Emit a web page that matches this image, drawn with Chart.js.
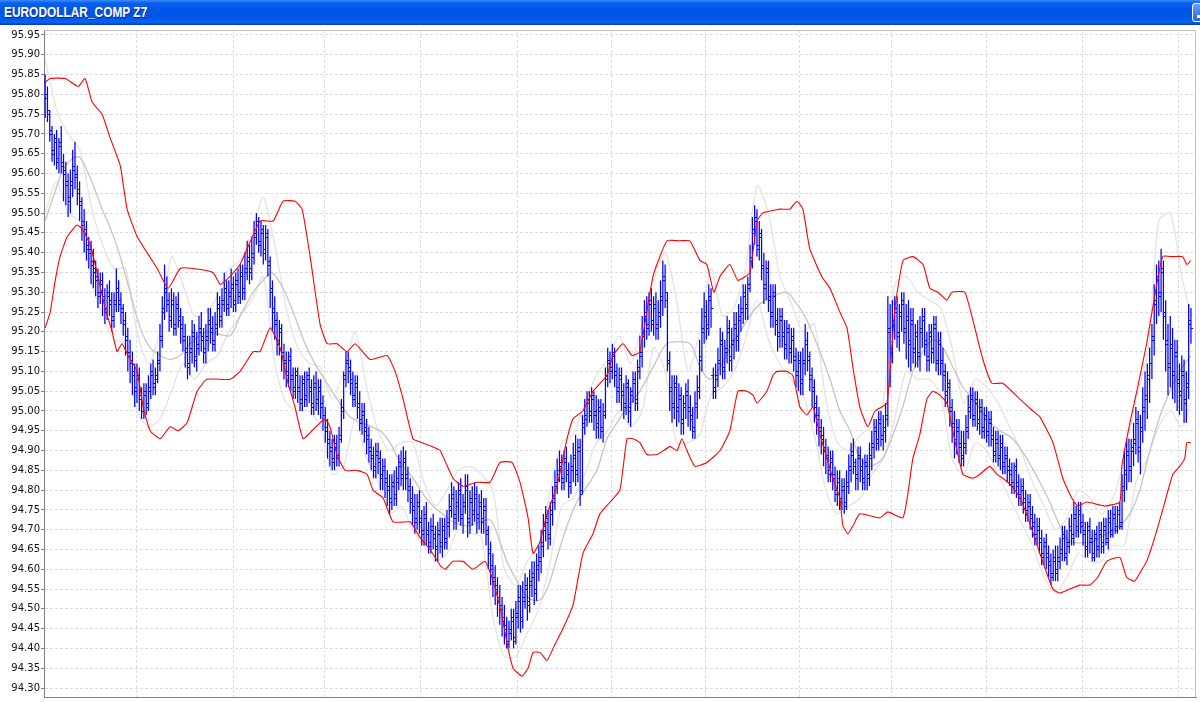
<!DOCTYPE html>
<html><head><meta charset="utf-8">
<script src="https://cdn.jsdelivr.net/npm/chart.js@4.4.1/dist/chart.umd.min.js"></script>
<style>
html,body{margin:0;padding:0;background:#fff;overflow:hidden;width:1200px;height:702px;position:relative;}
#bar{position:absolute;left:0;top:0;width:1200px;height:25px;
background:linear-gradient(to bottom,#3a8dfa 0%,#0a60ec 12%,#0055e6 45%,#0058e8 75%,#0a66f2 88%,#0450d8 94%,#0038b8 100%);}
#title{position:absolute;left:4px;top:4px;color:#fff;font:bold 14px "Liberation Sans",Arial,sans-serif;text-shadow:1px 1px 0 #0a2a8c;white-space:nowrap;transform:scaleX(0.85);transform-origin:0 0;}
#btn{position:absolute;left:1192px;top:3px;width:19px;height:19px;box-sizing:border-box;border:1px solid #fff;border-radius:3px;background:linear-gradient(to bottom,#6a9ff8,#2b63e2);}
#btn i{position:absolute;left:4px;top:11px;width:6px;height:3px;background:#fff;}
#wrap{position:absolute;left:0;top:25px;width:1200px;height:677px;}
</style></head>
<body>
<div id="bar"><div id="title">EURODOLLAR_COMP Z7</div><div id="btn"><i></i></div></div>
<div id="wrap"><canvas id="c" width="1200" height="677"></canvas></div>
<script>
// ---- tick labels ----
const yTickValues = [94.30,94.35,94.40,94.45,94.50,94.55,94.60,94.65,94.70,94.75,94.80,94.85,94.90,94.95,95.00,95.05,95.10,95.15,95.20,95.25,95.30,95.35,95.40,95.45,95.50,95.55,95.60,95.65,95.70,95.75,95.80,95.85,95.90,95.95];
// vertical grid positions (bar index)
const xGridAt = [40,82,121.5,163.3,205.5,246.8,287.8,328.7,368.7,410.1,451.9,493.7];

// ---- OHLC series (one entry per trading day) ----
const open = [
95.83,95.79,95.75,95.70,95.65,95.69,95.63,95.68,95.62,95.61,
95.58,95.53,95.57,95.62,95.59,95.55,95.53,95.47,95.46,95.41,
95.41,95.38,95.36,95.34,95.29,95.33,95.29,95.25,95.30,95.28,
95.23,95.28,95.31,95.27,95.25,95.23,95.19,95.15,95.13,95.10,
95.05,95.09,95.04,95.00,95.05,95.01,95.05,95.10,95.06,95.09,
95.13,95.19,95.26,95.31,95.27,95.23,95.28,95.21,95.27,95.23,
95.22,95.19,95.16,95.11,95.15,95.20,95.13,95.16,95.21,95.19,
95.15,95.18,95.23,95.21,95.17,95.21,95.27,95.23,95.27,95.31,
95.26,95.30,95.32,95.27,95.33,95.29,95.35,95.30,95.36,95.39,
95.35,95.39,95.45,95.48,95.42,95.46,95.40,95.45,95.37,95.31,
95.26,95.23,95.17,95.21,95.15,95.13,95.09,95.14,95.09,95.05,
95.10,95.06,95.02,95.08,95.03,95.09,95.06,95.01,95.07,95.02,
95.06,95.02,94.99,94.96,94.93,94.91,94.87,94.92,94.88,94.94,
95.01,95.09,95.13,95.11,95.08,95.03,95.07,95.02,94.97,95.00,
94.96,94.94,94.91,94.89,94.85,94.90,94.88,94.83,94.86,94.83,
94.81,94.77,94.82,94.78,94.82,94.87,94.83,94.88,94.84,94.81,
94.78,94.76,94.72,94.77,94.73,94.69,94.74,94.70,94.66,94.71,
94.69,94.65,94.70,94.66,94.71,94.67,94.71,94.76,94.79,94.73,
94.76,94.80,94.73,94.77,94.81,94.72,94.78,94.74,94.79,94.73,
94.77,94.72,94.76,94.69,94.65,94.61,94.58,94.56,94.53,94.51,
94.48,94.46,94.41,94.45,94.48,94.42,94.48,94.53,94.47,94.52,
94.56,94.51,94.56,94.59,94.54,94.61,94.62,94.66,94.71,94.73,
94.68,94.75,94.77,94.82,94.85,94.87,94.82,94.88,94.84,94.81,
94.85,94.89,94.84,94.91,94.80,94.97,94.98,95.03,94.99,95.04,
95.00,94.96,95.01,94.95,95.00,95.09,95.13,95.11,95.15,95.10,
95.05,95.09,95.05,95.01,95.07,95.00,95.05,95.08,95.02,95.11,
95.14,95.19,95.25,95.21,95.28,95.22,95.27,95.21,95.24,95.28,
95.34,95.28,95.13,95.06,95.01,95.07,95.01,95.04,94.97,95.02,
95.05,95.01,94.99,94.95,95.01,95.06,95.13,95.21,95.25,95.21,
95.29,95.09,95.05,95.09,95.12,95.18,95.10,95.16,95.21,95.13,
95.17,95.22,95.18,95.24,95.25,95.30,95.26,95.32,95.39,95.46,
95.49,95.41,95.44,95.37,95.31,95.36,95.29,95.24,95.30,95.23,
95.19,95.24,95.20,95.16,95.21,95.15,95.19,95.14,95.09,95.13,
95.07,95.12,95.18,95.13,95.09,95.06,95.02,94.99,94.96,94.94,
94.91,94.89,94.84,94.88,94.84,94.79,94.83,94.77,94.81,94.76,
94.81,94.85,94.90,94.86,94.83,94.89,94.86,94.82,94.87,94.83,
94.88,94.91,94.96,94.92,94.98,94.93,94.95,94.99,95.21,95.15,
95.23,95.26,95.19,95.25,95.28,95.20,95.24,95.17,95.23,95.15,
95.20,95.14,95.21,95.24,95.17,95.13,95.20,95.15,95.22,95.12,
95.18,95.13,95.10,95.04,95.06,95.01,94.97,94.92,94.96,94.92,
94.88,94.91,94.95,95.01,95.04,94.98,95.03,94.97,95.01,94.95,
94.99,94.94,94.98,94.94,94.89,94.93,94.88,94.92,94.86,94.89,
94.86,94.85,94.81,94.86,94.82,94.78,94.81,94.78,94.74,94.77,
94.74,94.72,94.68,94.71,94.68,94.63,94.67,94.64,94.62,94.58,
94.63,94.59,94.62,94.64,94.69,94.63,94.66,94.71,94.68,94.74,
94.70,94.75,94.71,94.70,94.65,94.71,94.68,94.63,94.69,94.65,
94.70,94.66,94.71,94.67,94.73,94.69,94.74,94.70,94.75,94.71,
94.81,94.84,94.90,94.85,94.91,94.92,94.98,94.90,94.96,95.01,
95.03,95.09,95.12,95.19,95.28,95.34,95.29,95.36,95.25,95.18,
95.11,95.17,95.09,95.15,95.08,95.04,95.10,95.02,95.07,95.23];
const high = [
95.85,95.82,95.76,95.72,95.70,95.71,95.69,95.72,95.65,95.63,
95.60,95.61,95.66,95.68,95.62,95.58,95.54,95.51,95.48,95.44,
95.43,95.41,95.38,95.36,95.35,95.35,95.31,95.32,95.33,95.30,
95.30,95.36,95.33,95.30,95.27,95.25,95.21,95.18,95.15,95.12,
95.12,95.11,95.06,95.07,95.07,95.09,95.12,95.13,95.11,95.15,
95.22,95.29,95.37,95.34,95.30,95.31,95.30,95.29,95.30,95.26,
95.24,95.22,95.19,95.19,95.23,95.22,95.20,95.24,95.25,95.21,
95.22,95.26,95.26,95.24,95.25,95.30,95.29,95.31,95.35,95.33,
95.33,95.36,95.34,95.35,95.36,95.37,95.37,95.40,95.43,95.42,
95.44,95.48,95.50,95.49,95.48,95.47,95.47,95.46,95.39,95.33,
95.29,95.25,95.23,95.22,95.17,95.15,95.15,95.16,95.11,95.11,
95.11,95.09,95.09,95.10,95.10,95.11,95.08,95.09,95.10,95.08,
95.08,95.04,95.01,94.98,94.95,94.93,94.94,94.94,94.96,95.03,
95.10,95.15,95.15,95.13,95.10,95.09,95.09,95.05,95.02,95.02,
94.98,94.96,94.93,94.91,94.92,94.92,94.90,94.88,94.88,94.85,
94.84,94.84,94.85,94.86,94.89,94.90,94.91,94.90,94.86,94.83,
94.81,94.79,94.79,94.80,94.75,94.76,94.77,94.72,94.73,94.74,
94.71,94.72,94.73,94.73,94.73,94.75,94.79,94.82,94.81,94.80,
94.82,94.83,94.79,94.84,94.84,94.80,94.81,94.82,94.81,94.79,
94.80,94.78,94.78,94.71,94.67,94.64,94.61,94.58,94.56,94.53,
94.51,94.48,94.47,94.50,94.50,94.52,94.56,94.56,94.57,94.59,
94.58,94.60,94.62,94.62,94.64,94.66,94.70,94.74,94.76,94.75,
94.77,94.81,94.85,94.88,94.90,94.89,94.90,94.91,94.87,94.89,
94.92,94.94,94.93,94.93,94.99,95.03,95.05,95.05,95.06,95.05,
95.04,95.03,95.03,95.02,95.11,95.16,95.15,95.17,95.16,95.12,
95.11,95.11,95.07,95.09,95.08,95.06,95.10,95.10,95.13,95.19,
95.24,95.28,95.29,95.30,95.31,95.29,95.30,95.28,95.33,95.38,
95.37,95.30,95.15,95.09,95.09,95.09,95.07,95.06,95.04,95.07,
95.08,95.04,95.01,95.05,95.09,95.18,95.26,95.30,95.28,95.32,
95.31,95.11,95.12,95.16,95.21,95.20,95.18,95.24,95.23,95.21,
95.25,95.25,95.27,95.29,95.32,95.32,95.34,95.42,95.49,95.52,
95.51,95.48,95.46,95.40,95.38,95.38,95.32,95.32,95.32,95.26,
95.26,95.26,95.23,95.23,95.22,95.21,95.21,95.16,95.15,95.15,
95.16,95.22,95.20,95.15,95.11,95.08,95.04,95.01,94.98,94.96,
94.93,94.91,94.90,94.90,94.86,94.85,94.85,94.83,94.83,94.85,
94.89,94.92,94.93,94.88,94.91,94.91,94.88,94.89,94.89,94.92,
94.95,94.98,94.98,95.00,95.00,94.99,95.02,95.29,95.27,95.28,
95.29,95.29,95.27,95.30,95.30,95.27,95.28,95.26,95.26,95.22,
95.23,95.24,95.26,95.26,95.20,95.22,95.22,95.24,95.24,95.20,
95.20,95.16,95.12,95.10,95.08,95.03,95.00,94.98,94.98,94.95,
94.95,94.99,95.04,95.06,95.06,95.05,95.05,95.03,95.03,95.01,
95.01,95.00,95.00,94.96,94.95,94.95,94.94,94.94,94.91,94.91,
94.88,94.87,94.87,94.88,94.84,94.83,94.83,94.80,94.79,94.79,
94.76,94.74,94.73,94.73,94.70,94.68,94.69,94.66,94.64,94.65,
94.66,94.66,94.68,94.71,94.71,94.70,94.73,94.74,94.77,94.76,
94.77,94.77,94.74,94.72,94.72,94.73,94.70,94.70,94.71,94.72,
94.72,94.73,94.73,94.75,94.75,94.76,94.76,94.76,94.77,94.84,
94.90,94.93,94.93,94.93,94.97,95.01,95.00,94.99,95.06,95.10,
95.12,95.16,95.22,95.32,95.37,95.38,95.41,95.38,95.28,95.22,
95.24,95.21,95.18,95.18,95.12,95.14,95.13,95.10,95.27,95.26];
const low = [
95.74,95.73,95.68,95.63,95.62,95.61,95.60,95.60,95.53,95.52,
95.49,95.50,95.54,95.56,95.52,95.48,95.43,95.40,95.38,95.36,
95.32,95.31,95.29,95.26,95.27,95.24,95.22,95.23,95.24,95.20,
95.21,95.25,95.25,95.22,95.19,95.14,95.10,95.07,95.04,95.01,
95.02,95.00,94.98,94.98,94.99,95.00,95.03,95.04,95.04,95.07,
95.10,95.16,95.23,95.25,95.20,95.21,95.19,95.19,95.21,95.17,
95.15,95.11,95.08,95.09,95.12,95.11,95.10,95.14,95.15,95.12,
95.12,95.15,95.17,95.15,95.15,95.19,95.21,95.21,95.25,95.24,
95.24,95.26,95.25,95.25,95.27,95.27,95.28,95.28,95.33,95.32,
95.33,95.37,95.42,95.40,95.39,95.37,95.38,95.34,95.26,95.20,
95.18,95.14,95.14,95.10,95.08,95.06,95.06,95.05,95.03,95.03,
95.02,95.00,95.00,95.01,95.01,95.02,94.99,94.99,95.00,94.99,
94.98,94.95,94.92,94.88,94.86,94.85,94.85,94.86,94.86,94.92,
94.98,95.06,95.07,95.04,95.01,95.01,94.98,94.95,94.94,94.92,
94.89,94.87,94.85,94.83,94.83,94.84,94.80,94.80,94.78,94.76,
94.74,94.75,94.76,94.76,94.80,94.81,94.80,94.80,94.77,94.74,
94.71,94.69,94.70,94.69,94.66,94.66,94.66,94.64,94.64,94.65,
94.62,94.62,94.64,94.63,94.65,94.65,94.68,94.73,94.70,94.70,
94.72,94.71,94.69,94.74,94.68,94.69,94.71,94.72,94.69,94.70,
94.69,94.69,94.66,94.60,94.56,94.53,94.51,94.48,94.46,94.43,
94.41,94.40,94.40,94.42,94.40,94.41,94.45,94.44,94.45,94.50,
94.47,94.49,94.53,94.51,94.52,94.57,94.59,94.63,94.67,94.65,
94.66,94.71,94.75,94.79,94.82,94.80,94.80,94.82,94.78,94.79,
94.82,94.81,94.82,94.76,94.79,94.94,94.96,94.97,94.97,94.95,
94.93,94.93,94.93,94.92,94.98,95.06,95.07,95.08,95.06,95.02,
95.02,95.00,94.98,94.99,94.97,94.96,95.02,95.00,95.00,95.08,
95.11,95.16,95.18,95.19,95.20,95.19,95.18,95.18,95.21,95.24,
95.26,95.10,95.00,94.97,94.98,94.96,94.97,94.94,94.94,94.98,
94.96,94.95,94.93,94.93,94.98,95.03,95.10,95.17,95.18,95.19,
95.21,95.03,95.03,95.06,95.09,95.08,95.08,95.12,95.10,95.10,
95.13,95.15,95.15,95.20,95.22,95.23,95.23,95.30,95.36,95.42,
95.39,95.38,95.33,95.27,95.28,95.25,95.21,95.21,95.19,95.15,
95.16,95.16,95.13,95.13,95.12,95.12,95.10,95.06,95.05,95.04,
95.04,95.09,95.10,95.05,95.01,94.97,94.94,94.91,94.89,94.86,
94.84,94.82,94.82,94.80,94.77,94.76,94.75,94.75,94.74,94.75,
94.79,94.82,94.84,94.80,94.80,94.82,94.80,94.80,94.80,94.81,
94.85,94.88,94.90,94.90,94.91,94.90,94.92,94.96,95.06,95.12,
95.18,95.16,95.15,95.20,95.17,95.13,95.11,95.10,95.12,95.11,
95.11,95.10,95.16,95.14,95.10,95.10,95.12,95.12,95.10,95.09,
95.09,95.05,95.01,95.01,94.96,94.92,94.88,94.89,94.87,94.86,
94.86,94.89,94.93,94.98,94.96,94.96,94.95,94.94,94.93,94.93,
94.92,94.91,94.91,94.87,94.87,94.86,94.85,94.84,94.84,94.82,
94.81,94.79,94.79,94.78,94.76,94.76,94.74,94.72,94.72,94.70,
94.68,94.66,94.66,94.64,94.61,94.61,94.60,94.58,94.56,94.57,
94.57,94.57,94.60,94.62,94.62,94.61,94.64,94.66,94.66,94.68,
94.68,94.69,94.66,94.63,94.63,94.64,94.62,94.62,94.63,94.63,
94.64,94.64,94.66,94.65,94.68,94.68,94.69,94.69,94.70,94.70,
94.77,94.80,94.82,94.82,94.86,94.89,94.87,94.84,94.92,94.95,
94.98,95.02,95.08,95.14,95.22,95.24,95.25,95.18,95.10,95.04,
95.06,95.03,95.02,95.00,94.99,95.00,94.97,94.97,95.03,95.17];
const close = [
95.80,95.76,95.71,95.66,95.68,95.64,95.67,95.63,95.60,95.57,
95.54,95.58,95.61,95.60,95.56,95.52,95.48,95.45,95.42,95.40,
95.37,95.35,95.33,95.30,95.32,95.28,95.26,95.29,95.27,95.24,
95.27,95.30,95.28,95.26,95.22,95.18,95.14,95.12,95.09,95.06,
95.08,95.03,95.00,95.04,95.02,95.06,95.09,95.07,95.08,95.12,
95.18,95.25,95.30,95.28,95.24,95.27,95.22,95.26,95.24,95.21,
95.18,95.15,95.12,95.16,95.19,95.14,95.17,95.20,95.18,95.16,
95.19,95.22,95.20,95.18,95.22,95.26,95.24,95.28,95.30,95.27,
95.29,95.31,95.28,95.32,95.30,95.34,95.31,95.35,95.38,95.36,
95.40,95.44,95.47,95.43,95.45,95.41,95.44,95.38,95.30,95.25,
95.22,95.18,95.20,95.14,95.12,95.10,95.13,95.08,95.06,95.09,
95.05,95.03,95.07,95.04,95.08,95.05,95.02,95.06,95.03,95.05,
95.01,94.98,94.95,94.92,94.90,94.88,94.91,94.89,94.93,95.00,
95.08,95.12,95.10,95.07,95.04,95.06,95.01,94.98,94.99,94.95,
94.93,94.90,94.88,94.86,94.89,94.87,94.84,94.85,94.82,94.80,
94.78,94.81,94.79,94.83,94.86,94.84,94.87,94.83,94.80,94.77,
94.75,94.73,94.76,94.72,94.70,94.73,94.69,94.67,94.70,94.68,
94.66,94.69,94.67,94.70,94.68,94.72,94.75,94.78,94.74,94.77,
94.79,94.74,94.76,94.80,94.73,94.77,94.75,94.78,94.74,94.76,
94.73,94.75,94.70,94.64,94.60,94.57,94.55,94.52,94.50,94.47,
94.45,94.42,94.44,94.47,94.43,94.49,94.52,94.48,94.53,94.55,
94.52,94.57,94.58,94.55,94.60,94.63,94.67,94.70,94.72,94.69,
94.74,94.78,94.81,94.84,94.86,94.83,94.87,94.85,94.82,94.86,
94.88,94.85,94.90,94.79,94.96,94.99,95.02,95.00,95.03,94.99,
94.97,95.00,94.96,94.99,95.08,95.12,95.10,95.14,95.09,95.06,
95.08,95.04,95.02,95.06,95.01,95.04,95.07,95.03,95.10,95.15,
95.20,95.24,95.22,95.27,95.23,95.26,95.22,95.25,95.29,95.33,
95.30,95.12,95.05,95.02,95.06,95.00,95.03,94.98,95.01,95.04,
95.00,94.98,94.96,95.02,95.05,95.14,95.20,95.24,95.22,95.28,
95.26,95.06,95.08,95.13,95.17,95.11,95.15,95.20,95.14,95.18,
95.21,95.19,95.23,95.26,95.29,95.27,95.31,95.38,95.45,95.48,
95.42,95.45,95.36,95.32,95.35,95.28,95.25,95.29,95.22,95.20,
95.23,95.19,95.17,95.20,95.16,95.18,95.13,95.10,95.12,95.08,
95.13,95.17,95.14,95.08,95.05,95.01,94.98,94.95,94.93,94.90,
94.88,94.85,94.87,94.83,94.80,94.82,94.78,94.80,94.77,94.82,
94.86,94.89,94.87,94.84,94.88,94.85,94.83,94.86,94.84,94.89,
94.92,94.95,94.93,94.97,94.94,94.96,94.98,95.20,95.16,95.22,
95.25,95.20,95.24,95.27,95.21,95.23,95.18,95.22,95.16,95.19,
95.15,95.20,95.23,95.18,95.14,95.19,95.16,95.21,95.13,95.17,
95.12,95.09,95.05,95.07,95.00,94.96,94.93,94.95,94.91,94.89,
94.92,94.96,95.00,95.03,94.99,95.02,94.98,95.00,94.96,94.98,
94.95,94.97,94.93,94.90,94.92,94.89,94.91,94.87,94.88,94.85,
94.84,94.82,94.85,94.81,94.79,94.80,94.77,94.75,94.76,94.73,
94.71,94.69,94.70,94.67,94.64,94.66,94.63,94.61,94.59,94.62,
94.60,94.63,94.65,94.68,94.64,94.67,94.70,94.69,94.73,94.71,
94.74,94.72,94.69,94.66,94.70,94.67,94.64,94.68,94.66,94.69,
94.67,94.70,94.68,94.72,94.70,94.73,94.71,94.74,94.72,94.80,
94.85,94.89,94.86,94.90,94.93,94.97,94.91,94.95,95.00,95.04,
95.08,95.12,95.18,95.27,95.33,95.30,95.35,95.24,95.17,95.12,
95.16,95.10,95.14,95.07,95.05,95.09,95.03,95.06,95.22,95.21];

// ---- Bollinger bands [bar index, price] ----
const bbUpper = [[0,95.83],[2.2,95.84],[8.7,95.84],[14.4,95.82],[17.4,95.84],[20.5,95.78],[24.8,95.75],[28.3,95.69],[32.7,95.62],[35.7,95.51],[40.1,95.44],[44.4,95.40],[48.8,95.36],[53.6,95.31],[58.8,95.36],[64.4,95.36],[73.1,95.35],[76.2,95.32],[80.5,95.34],[84.9,95.37],[93.6,95.48],[99.3,95.48],[103.6,95.53],[108.8,95.53],[111.9,95.51],[115.4,95.39],[119.7,95.22],[122.8,95.17],[127.1,95.17],[131.5,95.15],[135,95.17],[141.5,95.13],[148.9,95.14],[152.4,95.10],[155.9,95.03],[160.2,94.93],[164.1,94.92],[168.5,94.91],[172,94.90],[177.6,94.83],[182,94.81],[188.1,94.82],[193.7,94.82],[198.1,94.87],[203.3,94.87],[206.8,94.82],[210.3,94.73],[212.5,94.64],[215.5,94.67],[218.6,94.74],[222.9,94.81],[227.3,94.93],[229.9,94.98],[234.2,95.00],[238.6,95.05],[244.7,95.09],[247.3,95.14],[251.7,95.17],[255.6,95.14],[259,95.15],[264.7,95.34],[270.8,95.43],[276.5,95.43],[280.8,95.43],[285.2,95.38],[288.2,95.37],[291.2,95.30],[293.9,95.34],[298.2,95.37],[301.7,95.33],[306.9,95.35],[310,95.48],[312.6,95.50],[320,95.51],[324.3,95.51],[327.4,95.53],[330,95.51],[333,95.41],[338.2,95.34],[341.8,95.31],[346.1,95.25],[349.2,95.21],[351.8,95.11],[354.8,95.01],[358.3,94.96],[361.4,95.00],[366.6,95.02],[370.1,95.26],[373.6,95.38],[377.9,95.39],[382.3,95.37],[385.3,95.31],[388.8,95.30],[392.7,95.28],[394.9,95.30],[400.5,95.30],[404,95.23],[408.4,95.13],[412.3,95.07],[417.1,95.07],[424.5,95.03],[430.2,95.00],[433.2,94.985],[438.9,94.92],[443.2,94.83],[447.1,94.78],[449.7,94.76],[453.6,94.77],[461.5,94.76],[468,94.77],[468.9,94.86],[472.4,94.97],[475.8,95.06],[479.7,95.17],[483.2,95.29],[486.7,95.39],[491.1,95.39],[495.4,95.39],[497.2,95.37],[498.9,95.38]];
const bbLower = [[0,95.21],[2.2,95.25],[4.4,95.33],[6.5,95.39],[9.6,95.44],[13.9,95.47],[16.1,95.46],[19.6,95.42],[22.6,95.35],[26.1,95.26],[29.2,95.20],[31.3,95.15],[33.5,95.17],[36.1,95.14],[40.1,95.10],[42.7,95.01],[45.7,94.95],[50.1,94.93],[54.4,94.96],[57.9,94.95],[61.8,94.97],[66.2,95.05],[70.5,95.08],[80.5,95.08],[84.9,95.10],[90.6,95.15],[93.6,95.15],[98,95.21],[102.3,95.16],[105.8,95.07],[108.8,95.01],[112.3,94.93],[116.2,94.95],[119.7,94.97],[121.9,94.98],[124.1,94.96],[127.1,94.89],[130.6,94.85],[135.8,94.85],[140.2,94.84],[142.8,94.80],[147.2,94.78],[151.5,94.72],[158.9,94.72],[160.2,94.71],[163.3,94.68],[167.6,94.65],[172,94.61],[174.2,94.60],[177.6,94.62],[182,94.62],[186.3,94.60],[191.6,94.62],[195.1,94.57],[199,94.48],[201.6,94.40],[203.8,94.35],[207.7,94.33],[210.3,94.35],[212.5,94.39],[215.5,94.39],[218.6,94.37],[222,94.41],[225.5,94.45],[229.9,94.51],[234.2,94.64],[238.6,94.69],[241.6,94.74],[246,94.77],[250.3,94.80],[253.4,94.93],[256,94.93],[259,94.92],[262,94.89],[266.5,94.89],[272.1,94.91],[275.2,94.90],[277.3,94.93],[279.5,94.90],[283,94.86],[288.2,94.87],[293.9,94.90],[298.2,94.95],[301.7,95.05],[305.6,95.05],[308.3,95.04],[310,95.02],[314.3,95.05],[317,95.09],[318.7,95.10],[323,95.10],[325.6,95.09],[328.7,95.01],[331.7,94.99],[334.4,95.01],[337.4,94.94],[340.5,94.88],[343,94.83],[346.1,94.78],[347.4,94.71],[349.6,94.69],[351.8,94.71],[354.8,94.74],[363.5,94.73],[367,94.745],[373.5,94.73],[375.7,94.79],[377.9,94.88],[380.9,94.94],[384,95.03],[386.6,95.05],[389.7,95.04],[392.7,95.02],[394.9,94.96],[397.1,94.90],[399.7,94.84],[404,94.83],[407.1,94.84],[411.4,94.86],[414.5,94.84],[417.1,94.83],[421,94.81],[424.5,94.78],[428,94.73],[433.2,94.64],[436.2,94.59],[438.9,94.55],[441.9,94.54],[446.2,94.55],[450.6,94.56],[454.9,94.56],[458.4,94.58],[462.3,94.62],[468,94.63],[471,94.58],[474.5,94.57],[476.7,94.59],[479.7,94.62],[483.2,94.68],[486.7,94.75],[491.1,94.84],[494.1,94.86],[496.3,94.88],[497.2,94.92],[498.9,94.92]];
const bbMid = [[0,95.48],[3.5,95.54],[7.8,95.61],[12.2,95.64],[15.2,95.64],[19.6,95.59],[24.8,95.51],[29.2,95.45],[32.7,95.39],[37,95.30],[41.4,95.21],[45.7,95.16],[50.1,95.14],[54.4,95.13],[58.8,95.14],[63.1,95.17],[70.5,95.20],[80.5,95.19],[84.9,95.24],[90.6,95.30],[94.9,95.33],[98.8,95.35],[103.6,95.31],[108,95.25],[113.2,95.17],[118.4,95.11],[122.8,95.07],[127.1,95.03],[132.8,94.985],[140.2,94.965],[145.8,94.95],[150.2,94.92],[154.6,94.87],[160.2,94.83],[164.6,94.79],[168.9,94.76],[172,94.745],[177.6,94.72],[183.7,94.71],[193.7,94.725],[196.8,94.69],[201.1,94.62],[205.5,94.57],[209.8,94.53],[214.2,94.52],[216.8,94.53],[219.9,94.57],[222.9,94.63],[227.3,94.71],[231.6,94.77],[236,94.81],[240.3,94.85],[244.7,94.93],[249,94.97],[253.4,95.01],[259,95.05],[264.7,95.11],[270.8,95.17],[280.8,95.17],[285.2,95.11],[289.5,95.08],[293.9,95.11],[298.2,95.16],[302.6,95.20],[306.9,95.24],[311.3,95.27],[316.9,95.29],[323,95.30],[327.4,95.27],[331.7,95.23],[337.4,95.15],[341.8,95.08],[346.1,95.00],[350.5,94.95],[354.8,94.88],[359.2,94.86],[364.8,94.88],[369.2,94.94],[373.5,95.01],[377.9,95.10],[382.3,95.15],[386.6,95.18],[391,95.16],[395.4,95.11],[399.7,95.06],[404,95.03],[410.1,94.98],[415.8,94.95],[421.4,94.93],[427.5,94.88],[433.2,94.82],[437.5,94.77],[441.9,94.71],[446.2,94.67],[456.2,94.67],[462.3,94.69],[468,94.71],[472.4,94.74],[476.7,94.80],[481.1,94.90],[485.4,94.985],[489.8,95.05],[494.1,95.10],[498.9,95.14]];
// short-period envelope (light grey)
const fastUpper = [[0,95.89],[5,95.76],[10,95.70],[15,95.66],[20,95.52],[25,95.42],[30,95.36],[35,95.36],[40,95.20],[45,95.12],[50,95.20],[55,95.39],[60,95.32],[65,95.24],[70,95.25],[75,95.29],[80,95.36],[85,95.38],[90,95.45],[95,95.54],[100,95.42],[105,95.26],[110,95.16],[115,95.12],[120,95.11],[125,95.03],[130,95.10],[135,95.20],[140,95.06],[145,94.95],[150,94.90],[155,94.92],[160,94.92],[165,94.82],[170,94.76],[175,94.80],[180,94.85],[185,94.86],[190,94.84],[195,94.80],[200,94.60],[205,94.56],[210,94.62],[215,94.66],[220,94.80],[225,94.92],[230,94.94],[235,95.02],[240,95.09],[245,95.13],[250,95.19],[255,95.12],[260,95.22],[265,95.33],[270,95.40],[275,95.28],[280,95.10],[285,95.20],[290,95.36],[295,95.24],[300,95.26],[305,95.36],[310,95.57],[315,95.50],[320,95.34],[325,95.27],[330,95.20],[335,95.22],[340,95.03],[345,94.92],[350,94.90],[355,94.94],[360,94.96],[365,95.02],[370,95.32],[375,95.34],[380,95.30],[385,95.28],[390,95.26],[395,95.16],[400,95.02],[405,95.08],[410,95.06],[415,95.02],[420,94.96],[425,94.90],[430,94.82],[435,94.76],[440,94.70],[445,94.73],[450,94.80],[455,94.78],[460,94.74],[465,94.78],[470,94.88],[475,95.03],[480,95.14],[485,95.48],[490,95.50],[495,95.34],[499,95.24]];
const fastLower = [[0,95.50],[5,95.58],[10,95.50],[15,95.48],[20,95.33],[25,95.24],[30,95.18],[35,95.17],[40,95.00],[45,94.96],[50,94.98],[55,95.05],[60,95.12],[65,95.08],[70,95.12],[75,95.14],[80,95.20],[85,95.24],[90,95.28],[95,95.34],[100,95.12],[105,95.02],[110,95.00],[115,95.00],[120,94.96],[125,94.84],[130,94.86],[135,94.98],[140,94.88],[145,94.82],[150,94.74],[155,94.76],[160,94.70],[165,94.66],[170,94.62],[175,94.64],[180,94.70],[185,94.69],[190,94.68],[195,94.48],[200,94.38],[205,94.38],[210,94.44],[215,94.50],[220,94.62],[225,94.76],[230,94.78],[235,94.84],[240,94.92],[245,94.95],[250,95.00],[255,94.96],[260,95.00],[265,95.16],[270,95.10],[275,94.92],[280,94.92],[285,94.94],[290,95.04],[295,95.06],[300,95.10],[305,95.18],[310,95.28],[315,95.18],[320,95.12],[325,95.08],[330,95.04],[335,94.94],[340,94.80],[345,94.74],[350,94.76],[355,94.78],[360,94.84],[365,94.88],[370,94.98],[375,95.10],[380,95.08],[385,95.08],[390,95.04],[395,94.88],[400,94.84],[405,94.92],[410,94.90],[415,94.84],[420,94.78],[425,94.72],[430,94.66],[435,94.58],[440,94.54],[445,94.58],[450,94.64],[455,94.62],[460,94.62],[465,94.66],[470,94.66],[475,94.82],[480,94.88],[485,94.96],[490,95.00],[495,94.96],[499,95.02]];

const pts = arr => arr.map(p => ({x: p[0], y: p[1]}));
const hlBars = close.map((c, i) => ({x: i, y: [low[i], high[i]]}));
const BAR_DS = 3;

const ohlcTicks = {
  id: 'ohlcTicks',
  afterDatasetDraw(chart, args) {
    if (args.index !== BAR_DS) return;
    const xs = chart.scales.x, ys = chart.scales.y, ctx = chart.ctx, a = chart.chartArea;
    ctx.save();
    ctx.beginPath(); ctx.rect(a.left, a.top, a.right - a.left, a.bottom - a.top); ctx.clip();
    ctx.strokeStyle = '#0000ff'; ctx.lineWidth = 1;
    ctx.beginPath();
    for (let i = 0; i < close.length; i++) {
      const px = xs.getPixelForValue(i);
      const po = Math.round(ys.getPixelForValue(open[i])) + 0.5;
      const pc = Math.round(ys.getPixelForValue(close[i])) + 0.5;
      ctx.moveTo(px - 2.2, po); ctx.lineTo(px, po);
      ctx.moveTo(px, pc); ctx.lineTo(px + 2.2, pc);
    }
    ctx.stroke();
    ctx.restore();
  }
};
const frame = {
  id: 'frame',
  afterDraw(chart) {
    const {ctx, chartArea: a} = chart;
    ctx.save();
    ctx.strokeStyle = '#c0c0c0'; ctx.lineWidth = 1;
    ctx.beginPath();
    ctx.moveTo(a.left, a.top + 0.5); ctx.lineTo(a.right - 0.5, a.top + 0.5); ctx.lineTo(a.right - 0.5, a.bottom);
    ctx.stroke();
    ctx.restore();
  }
};

new Chart(document.getElementById('c'), {
  type: 'line',
  data: { datasets: [
    { label: 'fastUpper', data: pts(fastUpper), borderColor: '#e3e3e3', borderWidth: 1.3, pointRadius: 0, tension: 0.25, order: 6 },
    { label: 'fastLower', data: pts(fastLower), borderColor: '#e3e3e3', borderWidth: 1.3, pointRadius: 0, tension: 0.25, order: 6 },
    { label: 'mid', data: pts(bbMid), borderColor: '#c4c4c4', borderWidth: 1.3, pointRadius: 0, tension: 0.25, order: 5 },
    { type: 'bar', label: 'OHLC', data: hlBars, backgroundColor: '#0000ff', borderWidth: 0, barThickness: 1.25, inflateAmount: 0, grouped: false, order: 3 },
    { label: 'upper', data: pts(bbUpper), borderColor: '#ff0000', borderWidth: 1.1, pointRadius: 0, tension: 0.15, order: 1 },
    { label: 'lower', data: pts(bbLower), borderColor: '#ff0000', borderWidth: 1.1, pointRadius: 0, tension: 0.15, order: 1 }
  ]},
  options: {
    responsive: false, animation: false, events: [],
    layout: { padding: { top: 5, right: 4, bottom: 5, left: 0 } },
    plugins: { legend: { display: false }, tooltip: { enabled: false }, title: { display: false } },
    scales: {
      x: {
        type: 'linear', min: -0.5, max: 501.2, offset: false,
        afterBuildTicks: s => { s.ticks = xGridAt.map(v => ({ value: v })); },
        afterFit: s => { s.height = 0; s.paddingLeft = 0; s.paddingRight = 0; },
        ticks: { display: false },
        grid: { color: '#dcdcdc', lineWidth: 1, drawTicks: false, offset: false },
        border: { display: true, color: '#808080', width: 1, dash: [3, 2] }
      },
      y: {
        type: 'linear', min: 94.2773, max: 95.9626,
        afterBuildTicks: s => { s.ticks = yTickValues.map(v => ({ value: v })); },
        afterFit: s => { s.width = 44; s.paddingTop = 0; s.paddingBottom = 0; },
        ticks: { autoSkip: false, padding: 1, color: '#111', font: { family: 'DejaVu Sans', size: 10 }, callback: v => Number(v).toFixed(2) },
        grid: { color: '#dcdcdc', lineWidth: 1, tickLength: 3, tickColor: '#808080' },
        border: { display: true, color: '#808080', width: 1, dash: [3, 2] }
      }
    }
  },
  plugins: [ohlcTicks, frame]
});
</script>
</body></html>
